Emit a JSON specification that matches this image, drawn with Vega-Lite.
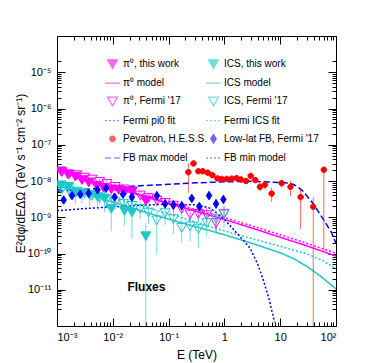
{
  "$schema": "https://vega.github.io/schema/vega-lite/v6.json",
  "width": 279,
  "height": 290,
  "autosize": {"type": "none"},
  "padding": {"left": 57, "top": 36, "right": 38, "bottom": 37},
  "background": "white",
  "config": {
    "view": {"stroke": "black", "strokeWidth": 1},
    "font": "Liberation Sans",
    "axis": {"grid": false, "domain": false, "tickColor": "black", "labelColor": "black", "titleColor": "black", "labelFont": "Liberation Sans", "titleFont": "Liberation Sans", "labelFontSize": 11, "titleFontSize": 12, "titleFontWeight": "normal", "tickWidth": 1},
    "legend": {"orient": "none", "legendX": 49.5, "legendY": 22, "columns": 2, "padding": 0, "rowPadding": 6.2, "columnPadding": -14, "labelOffset": 4.5, "labelFontSize": 10, "labelFont": "Liberation Sans", "labelColor": "black", "symbolSize": 100, "symbolStrokeWidth": 1.2, "labelLimit": 200}
  },
  "datasets": {
    "pts": [
      {"s": "π⁰, this work", "E": 0.00118, "F": 1.85e-8, "lo": 1.6e-8, "hi": 2.1e-8},
      {"s": "π⁰, this work", "E": 0.00157, "F": 1.53e-8, "lo": 1.3e-8, "hi": 1.8e-8},
      {"s": "π⁰, this work", "E": 0.00213, "F": 1.32e-8, "lo": 1.1e-8, "hi": 1.55e-8},
      {"s": "π⁰, this work", "E": 0.0028, "F": 1.06e-8, "lo": 8.8e-9, "hi": 1.28e-8},
      {"s": "π⁰, this work", "E": 0.0037, "F": 9.1e-9, "lo": 7.5e-9, "hi": 1.1e-8},
      {"s": "π⁰, this work", "E": 0.0051, "F": 7.3e-9, "lo": 5.9e-9, "hi": 9.0e-9},
      {"s": "π⁰, this work", "E": 0.0068, "F": 6.5e-9, "lo": 5.2e-9, "hi": 8.1e-9},
      {"s": "π⁰, this work", "E": 0.0094, "F": 5.9e-9, "lo": 4.6e-9, "hi": 7.5e-9},
      {"s": "π⁰, this work", "E": 0.0127, "F": 5.7e-9, "lo": 4.3e-9, "hi": 7.4e-9},
      {"s": "π⁰, this work", "E": 0.0167, "F": 5.2e-9, "lo": 3.8e-9, "hi": 7.0e-9},
      {"s": "π⁰, this work", "E": 0.022, "F": 5.0e-9, "lo": 3.6e-9, "hi": 6.8e-9},
      {"s": "π⁰, this work", "E": 0.039, "F": 2.9e-9, "lo": 2.0e-9, "hi": 4.2e-9},
      {"s": "ICS, this work", "E": 0.00118, "F": 7.6e-9, "lo": 4.5e-9, "hi": 1.0e-8},
      {"s": "ICS, this work", "E": 0.00162, "F": 6.9e-9, "lo": 4.0e-9, "hi": 9.2e-9},
      {"s": "ICS, this work", "E": 0.00213, "F": 4.75e-9, "lo": 2.2e-9, "hi": 6.5e-9},
      {"s": "ICS, this work", "E": 0.0028, "F": 4.5e-9, "lo": 2.4e-9, "hi": 6.2e-9},
      {"s": "ICS, this work", "E": 0.00384, "F": 4.1e-9, "lo": 2.0e-9, "hi": 5.8e-9},
      {"s": "ICS, this work", "E": 0.00533, "F": 3.6e-9, "lo": 1.6e-9, "hi": 5.3e-9},
      {"s": "ICS, this work", "E": 0.0071, "F": 3.3e-9, "lo": 1.4e-9, "hi": 5.0e-9},
      {"s": "ICS, this work", "E": 0.0094, "F": 1.7e-9, "lo": 4.1e-10, "hi": 3.3e-9},
      {"s": "ICS, this work", "E": 0.0162, "F": 1.5e-9, "lo": 5.9e-10, "hi": 2.8e-9},
      {"s": "ICS, this work", "E": 0.022, "F": 1.35e-9, "lo": 2.5e-10, "hi": 2.6e-9},
      {"s": "ICS, this work", "E": 0.039, "F": 3.0e-10, "lo": 1e-13, "hi": 7e-10},
      {"s": "π⁰, Fermi '17", "E": 0.00123, "F": 1.75e-8, "lo": 1.45e-8, "hi": 2.05e-8},
      {"s": "π⁰, Fermi '17", "E": 0.00166, "F": 1.53e-8, "lo": 1.25e-8, "hi": 1.8e-8},
      {"s": "π⁰, Fermi '17", "E": 0.00228, "F": 1.45e-8, "lo": 1.2e-8, "hi": 1.7e-8},
      {"s": "π⁰, Fermi '17", "E": 0.00313, "F": 1.25e-8, "lo": 1.03e-8, "hi": 1.48e-8},
      {"s": "π⁰, Fermi '17", "E": 0.00423, "F": 1.1e-8, "lo": 9.0e-9, "hi": 1.3e-8},
      {"s": "π⁰, Fermi '17", "E": 0.0058, "F": 9.5e-9, "lo": 7.7e-9, "hi": 1.15e-8},
      {"s": "π⁰, Fermi '17", "E": 0.00783, "F": 8.3e-9, "lo": 6.6e-9, "hi": 1.02e-8},
      {"s": "π⁰, Fermi '17", "E": 0.01107, "F": 6.9e-9, "lo": 5.3e-9, "hi": 8.7e-9},
      {"s": "π⁰, Fermi '17", "E": 0.0156, "F": 5.9e-9, "lo": 4.4e-9, "hi": 7.6e-9},
      {"s": "π⁰, Fermi '17", "E": 0.022, "F": 5.2e-9, "lo": 3.8e-9, "hi": 6.8e-9},
      {"s": "π⁰, Fermi '17", "E": 0.031, "F": 4.0e-9, "lo": 2.9e-9, "hi": 5.3e-9},
      {"s": "π⁰, Fermi '17", "E": 0.0437, "F": 3.4e-9, "lo": 2.4e-9, "hi": 4.6e-9},
      {"s": "π⁰, Fermi '17", "E": 0.0615, "F": 2.9e-9, "lo": 2.0e-9, "hi": 4.0e-9},
      {"s": "π⁰, Fermi '17", "E": 0.0867, "F": 2.5e-9, "lo": 1.7e-9, "hi": 3.5e-9},
      {"s": "π⁰, Fermi '17", "E": 0.122, "F": 2.1e-9, "lo": 1.4e-9, "hi": 3.0e-9},
      {"s": "π⁰, Fermi '17", "E": 0.172, "F": 1.7e-9, "lo": 1.1e-9, "hi": 2.5e-9},
      {"s": "π⁰, Fermi '17", "E": 0.243, "F": 1.2e-9, "lo": 7.5e-10, "hi": 1.8e-9},
      {"s": "π⁰, Fermi '17", "E": 0.342, "F": 1.25e-9, "lo": 7.8e-10, "hi": 1.9e-9},
      {"s": "π⁰, Fermi '17", "E": 0.482, "F": 1.15e-9, "lo": 7.0e-10, "hi": 1.8e-9},
      {"s": "π⁰, Fermi '17", "E": 0.708, "F": 6.9e-10, "lo": 4.0e-10, "hi": 1.1e-9},
      {"s": "π⁰, Fermi '17", "E": 0.985, "F": 1.25e-9, "lo": 7.0e-10, "hi": 2.0e-9},
      {"s": "ICS, Fermi '17", "E": 0.00123, "F": 5.9e-9, "lo": 4.3e-9, "hi": 7.6e-9},
      {"s": "ICS, Fermi '17", "E": 0.00166, "F": 5.4e-9, "lo": 3.9e-9, "hi": 7.0e-9},
      {"s": "ICS, Fermi '17", "E": 0.00228, "F": 5.1e-9, "lo": 3.6e-9, "hi": 6.7e-9},
      {"s": "ICS, Fermi '17", "E": 0.00313, "F": 4.6e-9, "lo": 3.2e-9, "hi": 6.1e-9},
      {"s": "ICS, Fermi '17", "E": 0.00423, "F": 3.97e-9, "lo": 2.7e-9, "hi": 5.3e-9},
      {"s": "ICS, Fermi '17", "E": 0.0058, "F": 3.47e-9, "lo": 2.3e-9, "hi": 4.7e-9},
      {"s": "ICS, Fermi '17", "E": 0.00783, "F": 3.1e-9, "lo": 2.0e-9, "hi": 4.3e-9},
      {"s": "ICS, Fermi '17", "E": 0.01107, "F": 2.6e-9, "lo": 1.6e-9, "hi": 3.7e-9},
      {"s": "ICS, Fermi '17", "E": 0.0156, "F": 2.33e-9, "lo": 1.4e-9, "hi": 3.4e-9},
      {"s": "ICS, Fermi '17", "E": 0.022, "F": 2.07e-9, "lo": 1.2e-9, "hi": 3.1e-9},
      {"s": "ICS, Fermi '17", "E": 0.031, "F": 1.7e-9, "lo": 9.0e-10, "hi": 2.6e-9},
      {"s": "ICS, Fermi '17", "E": 0.0437, "F": 1.35e-9, "lo": 6.5e-10, "hi": 2.2e-9},
      {"s": "ICS, Fermi '17", "E": 0.0615, "F": 8.2e-10, "lo": 9.3e-11, "hi": 1.6e-9},
      {"s": "ICS, Fermi '17", "E": 0.0867, "F": 1.3e-9, "lo": 6.0e-10, "hi": 2.1e-9},
      {"s": "ICS, Fermi '17", "E": 0.122, "F": 8.9e-10, "lo": 3.5e-10, "hi": 1.5e-9},
      {"s": "ICS, Fermi '17", "E": 0.172, "F": 5.1e-10, "lo": 2.0e-10, "hi": 9.0e-10},
      {"s": "ICS, Fermi '17", "E": 0.243, "F": 5.6e-10, "lo": 2.2e-10, "hi": 1.0e-9},
      {"s": "ICS, Fermi '17", "E": 0.342, "F": 4.7e-10, "lo": 1.45e-10, "hi": 9.0e-10},
      {"s": "ICS, Fermi '17", "E": 0.482, "F": 7.0e-10, "lo": 3.0e-10, "hi": 1.2e-9},
      {"s": "ICS, Fermi '17", "E": 0.708, "F": 9.0e-10, "lo": 4.0e-10, "hi": 1.5e-9},
      {"s": "ICS, Fermi '17", "E": 0.985, "F": 1.2e-9, "lo": 5.0e-10, "hi": 2.0e-9},
      {"s": "Pevatron, H.E.S.S.", "E": 0.226, "F": 1.75e-8, "lo": 4.8e-9, "hi": 3.16e-8},
      {"s": "Pevatron, H.E.S.S.", "E": 0.279, "F": 3.05e-8, "lo": 2.5e-8, "hi": 3.6e-8},
      {"s": "Pevatron, H.E.S.S.", "E": 0.342, "F": 1.86e-8, "lo": 1.6e-8, "hi": 2.2e-8},
      {"s": "Pevatron, H.E.S.S.", "E": 0.409, "F": 1.86e-8, "lo": 1.6e-8, "hi": 2.15e-8},
      {"s": "Pevatron, H.E.S.S.", "E": 0.502, "F": 1.7e-8, "lo": 1.5e-8, "hi": 1.95e-8},
      {"s": "Pevatron, H.E.S.S.", "E": 0.609, "F": 1.45e-8, "lo": 1.28e-8, "hi": 1.65e-8},
      {"s": "Pevatron, H.E.S.S.", "E": 0.748, "F": 1.18e-8, "lo": 1.05e-8, "hi": 1.33e-8},
      {"s": "Pevatron, H.E.S.S.", "E": 0.895, "F": 1.14e-8, "lo": 1.0e-8, "hi": 1.3e-8},
      {"s": "Pevatron, H.E.S.S.", "E": 1.1, "F": 1.14e-8, "lo": 1.0e-8, "hi": 1.3e-8},
      {"s": "Pevatron, H.E.S.S.", "E": 1.35, "F": 1.16e-8, "lo": 1.0e-8, "hi": 1.33e-8},
      {"s": "Pevatron, H.E.S.S.", "E": 1.66, "F": 1.2e-8, "lo": 1.03e-8, "hi": 1.4e-8},
      {"s": "Pevatron, H.E.S.S.", "E": 1.98, "F": 1.1e-8, "lo": 9.3e-9, "hi": 1.3e-8},
      {"s": "Pevatron, H.E.S.S.", "E": 2.44, "F": 1.0e-8, "lo": 8.3e-9, "hi": 1.2e-8},
      {"s": "Pevatron, H.E.S.S.", "E": 2.96, "F": 1.38e-8, "lo": 1.18e-8, "hi": 1.6e-8},
      {"s": "Pevatron, H.E.S.S.", "E": 3.58, "F": 1.06e-8, "lo": 8.8e-9, "hi": 1.28e-8},
      {"s": "Pevatron, H.E.S.S.", "E": 4.34, "F": 6.9e-9, "lo": 5.2e-9, "hi": 8.8e-9},
      {"s": "Pevatron, H.E.S.S.", "E": 5.33, "F": 7.9e-9, "lo": 5.8e-9, "hi": 1.05e-8},
      {"s": "Pevatron, H.E.S.S.", "E": 7.02, "F": 4.5e-9, "lo": 2.7e-9, "hi": 6.6e-9},
      {"s": "Pevatron, H.E.S.S.", "E": 10.6, "F": 8.7e-9, "lo": 6.8e-9, "hi": 1.1e-8},
      {"s": "Pevatron, H.E.S.S.", "E": 15.3, "F": 6.9e-9, "lo": 3.8e-9, "hi": 1.0e-8},
      {"s": "Pevatron, H.E.S.S.", "E": 23.2, "F": 3.6e-9, "lo": 4.7e-10, "hi": 6.3e-9},
      {"s": "Pevatron, H.E.S.S.", "E": 39.1, "F": 1.95e-9, "lo": 1e-13, "hi": 3.6e-9},
      {"s": "Pevatron, H.E.S.S.", "E": 60.5, "F": 2.04e-8, "lo": 1.15e-10, "hi": 2.04e-8},
      {"s": "Low-lat FB, Fermi '17", "E": 0.001316, "F": 2.99e-9, "lo": 2.6e-9, "hi": 3.4e-9},
      {"s": "Low-lat FB, Fermi '17", "E": 0.001854, "F": 3.95e-9, "lo": 3.4e-9, "hi": 4.5e-9},
      {"s": "Low-lat FB, Fermi '17", "E": 0.00261, "F": 4.3e-9, "lo": 3.7e-9, "hi": 4.9e-9},
      {"s": "Low-lat FB, Fermi '17", "E": 0.00368, "F": 4.6e-9, "lo": 4.0e-9, "hi": 5.3e-9},
      {"s": "Low-lat FB, Fermi '17", "E": 0.00533, "F": 5.7e-9, "lo": 4.9e-9, "hi": 6.5e-9},
      {"s": "Low-lat FB, Fermi '17", "E": 0.00753, "F": 6.3e-9, "lo": 5.4e-9, "hi": 7.3e-9},
      {"s": "Low-lat FB, Fermi '17", "E": 0.01076, "F": 3.6e-9, "lo": 3.0e-9, "hi": 4.3e-9},
      {"s": "Low-lat FB, Fermi '17", "E": 0.0152, "F": 4.35e-9, "lo": 3.6e-9, "hi": 5.2e-9},
      {"s": "Low-lat FB, Fermi '17", "E": 0.022, "F": 3.6e-9, "lo": 2.9e-9, "hi": 4.4e-9},
      {"s": "Low-lat FB, Fermi '17", "E": 0.0615, "F": 3.95e-9, "lo": 3.2e-9, "hi": 4.8e-9},
      {"s": "Low-lat FB, Fermi '17", "E": 0.0867, "F": 2.35e-9, "lo": 1.9e-9, "hi": 2.9e-9},
      {"s": "Low-lat FB, Fermi '17", "E": 0.122, "F": 2.2e-9, "lo": 1.75e-9, "hi": 2.75e-9},
      {"s": "Low-lat FB, Fermi '17", "E": 0.172, "F": 2.08e-9, "lo": 1.6e-9, "hi": 2.65e-9},
      {"s": "Low-lat FB, Fermi '17", "E": 0.26, "F": 3.3e-9, "lo": 2.7e-9, "hi": 4.0e-9},
      {"s": "Low-lat FB, Fermi '17", "E": 0.356, "F": 1.96e-9, "lo": 1.5e-9, "hi": 2.6e-9},
      {"s": "Low-lat FB, Fermi '17", "E": 0.531, "F": 3.95e-9, "lo": 3.3e-9, "hi": 4.7e-9},
      {"s": "Low-lat FB, Fermi '17", "E": 0.708, "F": 2.35e-9, "lo": 1.7e-9, "hi": 3.2e-9},
      {"s": "Low-lat FB, Fermi '17", "E": 0.96, "F": 3.1e-9, "lo": 2.3e-9, "hi": 4.1e-9}
    ],
    "lines": [
      {"s": "π⁰ model", "E": 0.001, "F": 1.95e-8},
      {"s": "π⁰ model", "E": 0.00316, "F": 1.12e-8},
      {"s": "π⁰ model", "E": 0.01, "F": 6.6e-9},
      {"s": "π⁰ model", "E": 0.0316, "F": 3.98e-9},
      {"s": "π⁰ model", "E": 0.1, "F": 2.4e-9},
      {"s": "π⁰ model", "E": 0.316, "F": 1.45e-9},
      {"s": "π⁰ model", "E": 1, "F": 8.7e-10},
      {"s": "π⁰ model", "E": 3.16, "F": 5.0e-10},
      {"s": "π⁰ model", "E": 10, "F": 2.82e-10},
      {"s": "π⁰ model", "E": 31.6, "F": 1.58e-10},
      {"s": "π⁰ model", "E": 100, "F": 8.5e-11},
      {"s": "Fermi pi0 fit", "E": 0.001, "F": 2.1e-8},
      {"s": "Fermi pi0 fit", "E": 0.00316, "F": 1.2e-8},
      {"s": "Fermi pi0 fit", "E": 0.01, "F": 7.2e-9},
      {"s": "Fermi pi0 fit", "E": 0.0316, "F": 4.3e-9},
      {"s": "Fermi pi0 fit", "E": 0.1, "F": 2.6e-9},
      {"s": "Fermi pi0 fit", "E": 0.316, "F": 1.6e-9},
      {"s": "Fermi pi0 fit", "E": 1, "F": 9.8e-10},
      {"s": "Fermi pi0 fit", "E": 3.16, "F": 5.75e-10},
      {"s": "Fermi pi0 fit", "E": 10, "F": 3.3e-10},
      {"s": "Fermi pi0 fit", "E": 31.6, "F": 1.86e-10},
      {"s": "Fermi pi0 fit", "E": 100, "F": 1.02e-10},
      {"s": "ICS model", "E": 0.001, "F": 7.6e-9},
      {"s": "ICS model", "E": 0.00316, "F": 4.47e-9},
      {"s": "ICS model", "E": 0.01, "F": 2.63e-9},
      {"s": "ICS model", "E": 0.0316, "F": 1.51e-9},
      {"s": "ICS model", "E": 0.1, "F": 8.9e-10},
      {"s": "ICS model", "E": 0.316, "F": 5.4e-10},
      {"s": "ICS model", "E": 1, "F": 3.3e-10},
      {"s": "ICS model", "E": 3.16, "F": 1.9e-10},
      {"s": "ICS model", "E": 10, "F": 1.05e-10},
      {"s": "ICS model", "E": 17.8, "F": 7.1e-11},
      {"s": "ICS model", "E": 31.6, "F": 4.2e-11},
      {"s": "ICS model", "E": 56.2, "F": 2.2e-11},
      {"s": "ICS model", "E": 100, "F": 1.05e-11},
      {"s": "Fermi ICS fit", "E": 0.001, "F": 7.9e-9},
      {"s": "Fermi ICS fit", "E": 0.00316, "F": 5.2e-9},
      {"s": "Fermi ICS fit", "E": 0.01, "F": 3.55e-9},
      {"s": "Fermi ICS fit", "E": 0.0316, "F": 2.04e-9},
      {"s": "Fermi ICS fit", "E": 0.1, "F": 1.26e-9},
      {"s": "Fermi ICS fit", "E": 0.316, "F": 7.2e-10},
      {"s": "Fermi ICS fit", "E": 1, "F": 4.2e-10},
      {"s": "Fermi ICS fit", "E": 3.16, "F": 2.57e-10},
      {"s": "Fermi ICS fit", "E": 10, "F": 1.58e-10},
      {"s": "Fermi ICS fit", "E": 31.6, "F": 9.5e-11},
      {"s": "Fermi ICS fit", "E": 56.2, "F": 6.6e-11},
      {"s": "Fermi ICS fit", "E": 100, "F": 3.8e-11},
      {"s": "FB max model", "E": 0.001, "F": 5.25e-9},
      {"s": "FB max model", "E": 0.00316, "F": 5.9e-9},
      {"s": "FB max model", "E": 0.01, "F": 6.6e-9},
      {"s": "FB max model", "E": 0.0316, "F": 7.4e-9},
      {"s": "FB max model", "E": 0.1, "F": 8.1e-9},
      {"s": "FB max model", "E": 0.316, "F": 8.9e-9},
      {"s": "FB max model", "E": 1, "F": 9.5e-9},
      {"s": "FB max model", "E": 3.16, "F": 9.8e-9},
      {"s": "FB max model", "E": 10, "F": 9.1e-9},
      {"s": "FB max model", "E": 12.6, "F": 8.9e-9},
      {"s": "FB max model", "E": 17, "F": 8.1e-9},
      {"s": "FB max model", "E": 20, "F": 7.1e-9},
      {"s": "FB max model", "E": 25.7, "F": 5.2e-9},
      {"s": "FB max model", "E": 38.9, "F": 2.4e-9},
      {"s": "FB max model", "E": 58.9, "F": 8.9e-10},
      {"s": "FB max model", "E": 83.2, "F": 3.8e-10},
      {"s": "FB max model", "E": 100, "F": 1.9e-10},
      {"s": "FB min model", "E": 0.001, "F": 1.51e-9},
      {"s": "FB min model", "E": 0.00316, "F": 1.74e-9},
      {"s": "FB min model", "E": 0.01, "F": 1.95e-9},
      {"s": "FB min model", "E": 0.0316, "F": 2.14e-9},
      {"s": "FB min model", "E": 0.1, "F": 2.29e-9},
      {"s": "FB min model", "E": 0.316, "F": 2.19e-9},
      {"s": "FB min model", "E": 0.562, "F": 1.78e-9},
      {"s": "FB min model", "E": 1, "F": 8.7e-10},
      {"s": "FB min model", "E": 1.58, "F": 4.0e-10},
      {"s": "FB min model", "E": 2.88, "F": 1.41e-10},
      {"s": "FB min model", "E": 3.98, "F": 5.0e-11},
      {"s": "FB min model", "E": 5.01, "F": 1.8e-11},
      {"s": "FB min model", "E": 6.31, "F": 5.6e-12},
      {"s": "FB min model", "E": 7.94, "F": 1.26e-12}
    ],
    "note": [{"label": "Fluxes"}]
  },
  "layer": [
    {
      "data": {"name": "lines"},
      "mark": {"type": "line", "strokeWidth": 1.5, "clip": true},
      "encoding": {
        "x": {"field": "E", "type": "quantitative", "scale": {"type": "log", "domain": [0.001, 100]},
          "axis": {"orient": "top", "title": null, "labels": false, "domain": false,
            "values": [0.001,0.002,0.003,0.004,0.005,0.006,0.007,0.008,0.009,0.01,0.02,0.03,0.04,0.05,0.06,0.07,0.08,0.09,0.1,0.2,0.3,0.4,0.5,0.6,0.7,0.8,0.9,1,2,3,4,5,6,7,8,9,10,20,30,40,50,60,70,80,90,100],
            "tickSize": {"condition": {"test": "abs(log(datum.value)/LN10 - round(log(datum.value)/LN10)) < 0.001", "value": -8}, "value": -4}}},
        "y": {"field": "F", "type": "quantitative", "scale": {"type": "log", "domain": [2.02e-12, 2.1e-5]},
          "axis": {"orient": "right", "title": null, "labels": false, "domain": false,
            "values": [3e-12,4e-12,5e-12,6e-12,7e-12,8e-12,9e-12,1e-11,2e-11,3e-11,4e-11,5e-11,6e-11,7e-11,8e-11,9e-11,1e-10,2e-10,3e-10,4e-10,5e-10,6e-10,7e-10,8e-10,9e-10,1e-9,2e-9,3e-9,4e-9,5e-9,6e-9,7e-9,8e-9,9e-9,1e-8,2e-8,3e-8,4e-8,5e-8,6e-8,7e-8,8e-8,9e-8,1e-7,2e-7,3e-7,4e-7,5e-7,6e-7,7e-7,8e-7,9e-7,1e-6,2e-6,3e-6,4e-6,5e-6,6e-6,7e-6,8e-6,9e-6,1e-5,2e-5],
            "tickSize": {"condition": {"test": "abs(log(datum.value)/LN10 - round(log(datum.value)/LN10)) < 0.001", "value": -8}, "value": -4}}},
        "stroke": {"field": "s", "type": "nominal", "legend": {"title": null},
          "scale": {"domain": ["π⁰, this work","π⁰ model","π⁰, Fermi '17","Fermi pi0 fit","Pevatron, H.E.S.S.","FB max model","ICS, this work","ICS model","ICS, Fermi '17","Fermi ICS fit","Low-lat FB, Fermi '17","FB min model"],
            "range": ["#ff00ff","#ff00ff","#ff00ff","#ff00ff","#ff0000","#0000ff","#1cc7c7","#1cc7c7","#1cc7c7","#1cc7c7","#0000ff","#0000ff"]}},
        "strokeDash": {"field": "s", "type": "nominal", "legend": {"title": null},
          "scale": {"domain": ["π⁰, this work","π⁰ model","π⁰, Fermi '17","Fermi pi0 fit","Pevatron, H.E.S.S.","FB max model","ICS, this work","ICS model","ICS, Fermi '17","Fermi ICS fit","Low-lat FB, Fermi '17","FB min model"],
            "range": [[1,0],[1,0],[1,0],[2,2],[1,0],[6,3],[1,0],[1,0],[1,0],[2,2],[1,0],[2,2]]}}
      }
    },
    {
      "data": {"name": "pts"},
      "mark": {"type": "rule", "strokeWidth": 1, "opacity": 0.6, "clip": true},
      "encoding": {
        "x": {"field": "E", "type": "quantitative", "axis": null},
        "y": {"field": "lo", "type": "quantitative", "axis": null},
        "y2": {"field": "hi"},
        "stroke": {"field": "s", "type": "nominal", "legend": {"title": null}}
      }
    },
    {
      "data": {"name": "pts"},
      "mark": {"type": "point", "strokeWidth": 1, "opacity": 1, "size": 100, "clip": true},
      "encoding": {
        "x": {"field": "E", "type": "quantitative",
          "axis": {"orient": "bottom", "title": "E (TeV)", "domain": false, "labelPadding": 13, "titleY": 28, "titleBaseline": "middle",
            "values": [0.001,0.002,0.003,0.004,0.005,0.006,0.007,0.008,0.009,0.01,0.02,0.03,0.04,0.05,0.06,0.07,0.08,0.09,0.1,0.2,0.3,0.4,0.5,0.6,0.7,0.8,0.9,1,2,3,4,5,6,7,8,9,10,20,30,40,50,60,70,80,90,100],
            "tickSize": {"condition": {"test": "abs(log(datum.value)/LN10 - round(log(datum.value)/LN10)) < 0.001", "value": -8}, "value": -4},
            "labelExpr": "abs(log(datum.value)/LN10 - round(log(datum.value)/LN10)) < 0.001 ? (datum.value > 0.5 && datum.value < 50 ? format(datum.value, 'd') : '10' + (datum.value < 1 ? '⁻' : '') + substring('⁰¹²³⁴⁵⁶⁷⁸⁹', abs(round(log(datum.value)/LN10)), abs(round(log(datum.value)/LN10)) + 1)) : ''"}},
        "y": {"field": "F", "type": "quantitative",
          "axis": {"orient": "left", "title": "E²dφ/dEΔΩ (TeV s⁻¹ cm⁻² sr⁻¹)", "domain": false, "labelPadding": 14, "titleX": -37, "titleY": 137, "titleBaseline": "middle", "titleAlign": "center", "titleAngle": -90,
            "values": [3e-12,4e-12,5e-12,6e-12,7e-12,8e-12,9e-12,1e-11,2e-11,3e-11,4e-11,5e-11,6e-11,7e-11,8e-11,9e-11,1e-10,2e-10,3e-10,4e-10,5e-10,6e-10,7e-10,8e-10,9e-10,1e-9,2e-9,3e-9,4e-9,5e-9,6e-9,7e-9,8e-9,9e-9,1e-8,2e-8,3e-8,4e-8,5e-8,6e-8,7e-8,8e-8,9e-8,1e-7,2e-7,3e-7,4e-7,5e-7,6e-7,7e-7,8e-7,9e-7,1e-6,2e-6,3e-6,4e-6,5e-6,6e-6,7e-6,8e-6,9e-6,1e-5,2e-5],
            "tickSize": {"condition": {"test": "abs(log(datum.value)/LN10 - round(log(datum.value)/LN10)) < 0.001", "value": -8}, "value": -4},
            "labelExpr": "abs(log(datum.value)/LN10 - round(log(datum.value)/LN10)) < 0.001 ? '10⁻' + (abs(round(log(datum.value)/LN10)) >= 10 ? '¹' + substring('⁰¹²³⁴⁵⁶⁷⁸⁹', abs(round(log(datum.value)/LN10)) - 10, abs(round(log(datum.value)/LN10)) - 9) : substring('⁰¹²³⁴⁵⁶⁷⁸⁹', abs(round(log(datum.value)/LN10)), abs(round(log(datum.value)/LN10)) + 1)) : ''"}},
        "stroke": {"field": "s", "type": "nominal", "legend": {"title": null}},
        "fill": {"field": "s", "type": "nominal", "legend": {"title": null},
          "scale": {"domain": ["π⁰, this work","π⁰ model","π⁰, Fermi '17","Fermi pi0 fit","Pevatron, H.E.S.S.","FB max model","ICS, this work","ICS model","ICS, Fermi '17","Fermi ICS fit","Low-lat FB, Fermi '17","FB min model"],
            "range": ["#ff00ff","transparent","transparent","transparent","#ff0000","transparent","#1cc7c7","transparent","transparent","transparent","#0000ff","transparent"]}},
        "shape": {"field": "s", "type": "nominal", "legend": {"title": null},
          "scale": {"domain": ["π⁰, this work","π⁰ model","π⁰, Fermi '17","Fermi pi0 fit","Pevatron, H.E.S.S.","FB max model","ICS, this work","ICS model","ICS, Fermi '17","Fermi ICS fit","Low-lat FB, Fermi '17","FB min model"],
            "range": ["triangle-down","M-1.5,0H1.5","triangle-down","M-1.5,0H1.5","M0.55,0A0.55,0.55,0,1,1,-0.55,0A0.55,0.55,0,1,1,0.55,0Z","M-1.5,0H1.5","triangle-down","M-1.5,0H1.5","triangle-down","M-1.5,0H1.5","M0,-0.85L0.55,0L0,0.85L-0.55,0Z","M-1.5,0H1.5"]}}
      }
    },
    {
      "data": {"name": "note"},
      "mark": {"type": "text", "font": "Liberation Sans", "fontSize": 12, "fontWeight": "bold", "align": "center", "baseline": "middle", "color": "black"},
      "encoding": {
        "text": {"field": "label"},
        "x": {"datum": 0.04, "type": "quantitative", "axis": null},
        "y": {"datum": 1.2e-11, "type": "quantitative", "axis": null}
      }
    }
  ]
}
